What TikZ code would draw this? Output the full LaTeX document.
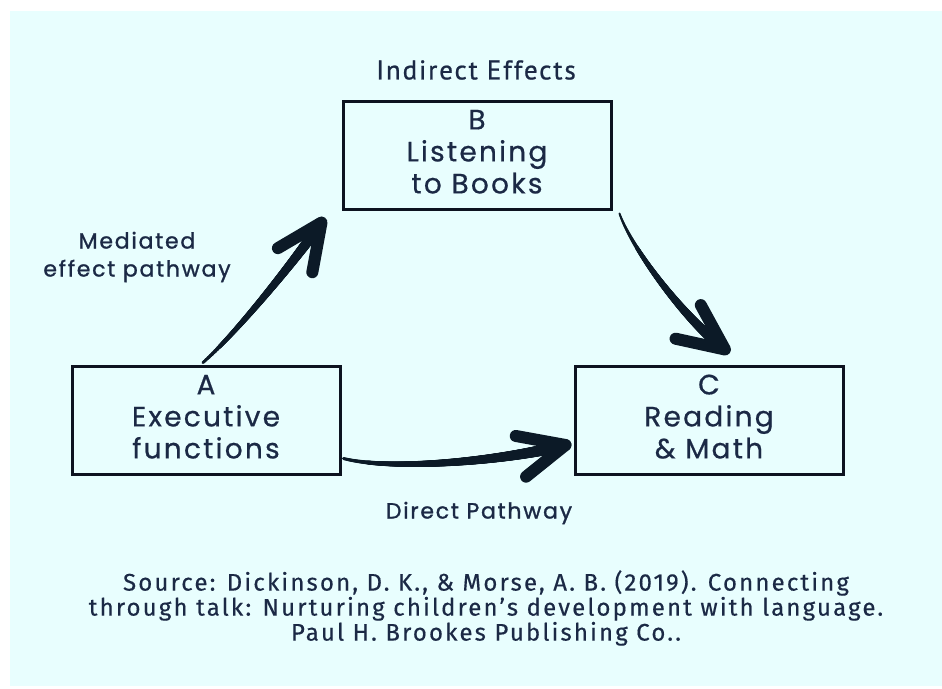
\documentclass[tikz,border=0pt]{standalone}
\usepackage{fontspec}
\setmainfont{Poppins}
\newfontfamily\boxfont{Poppins}[LetterSpace=8,FakeBold=0.6]
\newfontfamily\lblfont{Poppins}[LetterSpace=8,FakeBold=1.2]
\newfontfamily\srcfont{Fira Sans}[LetterSpace=9,FakeBold=0.4]
\newfontfamily\topfont{PT Sans}[LetterSpace=7,FakeBold=0.8]
\usetikzlibrary{decorations.markings,calc}
\definecolor{bg}{HTML}{E8FEFE}
\definecolor{ink}{HTML}{1B2945}
\definecolor{arrowcol}{HTML}{0C1A27}
\definecolor{boxline}{HTML}{0D1320}
\tikzset{
 box/.style={draw=boxline, line width=3pt, fill=bg, minimum width=268pt, minimum height=108pt, text=ink, align=center, font=\boxfont\fontsize{28}{32}\selectfont, inner sep=0pt},
 lbl/.style={text=ink, align=center, font=\lblfont\fontsize{22}{28}\selectfont},
 taper/.style n args={2}{postaction={decorate, decoration={markings, mark=between positions 0 and 1 step 0.4pt with {\pgfmathsetmacro\rr{#1+(#2-#1)*\pgfkeysvalueof{/pgf/decoration/mark info/distance from start}/\pgfdecoratedpathlength}\fill[arrowcol] (0pt,0pt) circle[radius=\rr pt];}}}},
 barbs/.style={postaction={decorate, decoration={markings, mark=at position 1 with {\draw[arrowcol, line width=12pt, line cap=round, line join=round] (-46pt,21pt) -- (0pt,0pt) -- (-46pt,-21pt);}}}}
}
\begin{document}
\begin{tikzpicture}[x=1pt,y=-1pt]
\fill[white] (0,0) rectangle (942,688);
\fill[bg] (10,11) rectangle (942,686);
\useasboundingbox (0,0) rectangle (942,688);
\node[box] (B) at (477,155) {\raisebox{3pt}{\begin{tabular}{@{}c@{}}B\\Listening\\to Books\end{tabular}}};
\node[box] (A) at (206,420) {\raisebox{3pt}{\begin{tabular}{@{}c@{}}A\\Executive\\functions\end{tabular}}};
\node[box] (C) at (709,420) {\raisebox{3pt}{\begin{tabular}{@{}c@{}}C\\Reading\\\& Math\end{tabular}}};
\node[text=ink, font=\topfont\fontsize{27}{30}\selectfont] (ie) at (476,70) {Indirect Effects};
\node[lbl] (med) at (137,257) {Mediated\\effect pathway};
\node[lbl] (dp) at (479,513) {Direct Pathway};
\node[text=ink, font=\srcfont\fontsize{24}{25}\selectfont, align=center] (src) at (486,608) {Source: Dickinson, D. K., \& Morse, A. B. (2019). Connecting\\through talk: Nurturing children’s development with language.\\Paul H. Brookes Publishing Co..};
\path[taper={1.5}{5.5}, barbs] ([xshift=-3pt,yshift=2pt]A.north) .. controls +(32,-28) and +(-28,40) .. ([xshift=-20pt,yshift=-12pt]B.south west);
\path[taper={1}{5.5}, barbs] ([xshift=7pt,yshift=-3pt]B.south east) .. controls +(12,35) and +(-40,-30) .. ([xshift=16pt,yshift=15pt]C.north);
\path[taper={1.5}{6}, barbs] ([xshift=2pt,yshift=17pt]A.south east) .. controls +(47,12) and +(-67,17) .. ([xshift=-8pt,yshift=-25pt]C.west);
\end{tikzpicture}
\end{document}
